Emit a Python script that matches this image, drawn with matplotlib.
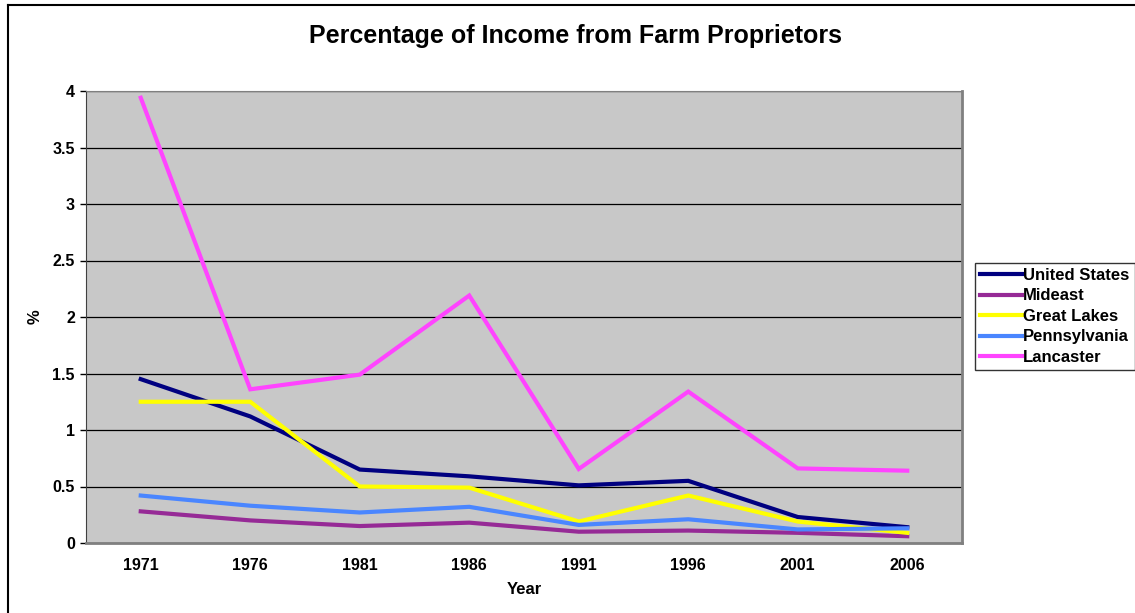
import matplotlib
matplotlib.use('Agg')
import matplotlib.pyplot as plt
from matplotlib.lines import Line2D

plt.rcParams['font.family'] = ['Liberation Sans', 'DejaVu Sans']

years = ['1971', '1976', '1981', '1986', '1991', '1996', '2001', '2006']
united_states = [1.45, 1.12, 0.65, 0.59, 0.51, 0.55, 0.23, 0.14]
mideast = [0.28, 0.20, 0.15, 0.18, 0.10, 0.11, 0.09, 0.06]
great_lakes = [1.25, 1.25, 0.50, 0.49, 0.19, 0.42, 0.19, 0.09]
pennsylvania = [0.42, 0.33, 0.27, 0.32, 0.16, 0.21, 0.12, 0.13]
lancaster = [3.94, 1.36, 1.49, 2.19, 0.655, 1.34, 0.66, 0.64]

series = [
    ('United States', united_states, '#000080'),
    ('Mideast', mideast, '#962a96'),
    ('Great Lakes', great_lakes, '#ffff00'),
    ('Pennsylvania', pennsylvania, '#4a86ff'),
    ('Lancaster', lancaster, '#ff44ff'),
]

W, H = 1135, 613
fig = plt.figure(figsize=(W / 100, H / 100), dpi=100)
fig.patch.set_facecolor('white')

# outer chart border (only left and top edges fall inside the image)
fig.add_artist(Line2D([7.5 / W, 7.5 / W], [0, 1 - 4.5 / H], transform=fig.transFigure,
                      color='black', linewidth=1.5))
fig.add_artist(Line2D([7.5 / W, 1], [1 - 4.5 / H, 1 - 4.5 / H], transform=fig.transFigure,
                      color='black', linewidth=1.5))

left, right, top, bottom = 86, 962, 91, 543
ax = fig.add_axes([left / W, 1 - bottom / H, (right - left) / W, (bottom - top) / H])
ax.set_facecolor('#c8c8c8')

x = list(range(len(years)))
for name, vals, color in series:
    ax.plot(x, vals, color=color, linewidth=3, label=name, solid_joinstyle='miter')

ax.set_xlim(-0.5, len(years) - 0.5)
ax.set_ylim(0, 4)
ax.set_yticks([0, 0.5, 1, 1.5, 2, 2.5, 3, 3.5, 4])
ax.set_yticklabels(['0', '0.5', '1', '1.5', '2', '2.5', '3', '3.5', '4'])
ax.set_xticks(x)
ax.set_xticklabels(years)
ax.yaxis.grid(True, color='black', linewidth=0.9)
ax.set_axisbelow(True)
ax.tick_params(axis='y', length=4, width=1, labelsize=11.5, pad=4)
ax.tick_params(axis='x', length=0, labelsize=11.5, pad=11)
for lbl in ax.get_xticklabels() + ax.get_yticklabels():
    lbl.set_fontweight('bold')

ax.spines['top'].set_color('#808080')
ax.spines['left'].set_color('#404040')
ax.spines['right'].set_color('#808080')
ax.spines['right'].set_linewidth(2)
ax.spines['bottom'].set_color('#808080')
ax.spines['bottom'].set_linewidth(2)

ax.set_xlabel('Year', fontsize=12, fontweight='bold', labelpad=6)
ax.set_ylabel('%', fontsize=12, fontweight='bold', labelpad=7)

fig.text(575 / W, 1 - 36 / H, 'Percentage of Income from Farm Proprietors',
         ha='center', va='center', fontsize=18, fontweight='bold')

leg = ax.legend(loc='center left', bbox_to_anchor=(975 / W, 1 - 316.5 / H),
                bbox_transform=fig.transFigure, frameon=True, fancybox=False,
                borderpad=0.3, labelspacing=0.33, handlelength=2.5, handletextpad=0.1,
                borderaxespad=0, prop={'weight': 'bold', 'size': 12})
leg.get_frame().set_edgecolor('black')
leg.get_frame().set_linewidth(1)

fig.savefig('out.png', dpi=100)
